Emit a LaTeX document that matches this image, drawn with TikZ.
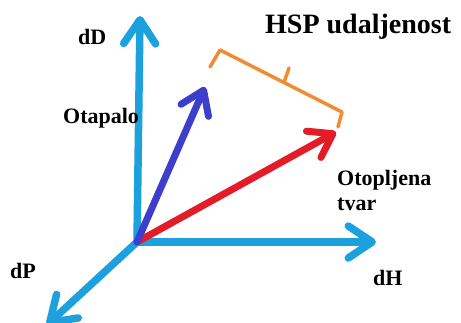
\documentclass[tikz,border=0pt]{standalone}
\usepackage{fontspec}
\setmainfont{Liberation Serif}
\usetikzlibrary{arrows.meta}
\definecolor{axisblue}{RGB}{28,160,222}
\definecolor{solvblue}{RGB}{62,62,205}
\definecolor{solred}{RGB}{228,28,40}
\definecolor{hsporange}{RGB}{242,140,50}
\begin{document}
\begin{tikzpicture}[x=1pt,y=-1pt,
  axisline/.style={draw=axisblue, line width=7.5pt, line cap=round,
    -{Straight Barb[length=24pt,width=32pt,round]}},
  vecline/.style={line width=7pt, line cap=round,
    -{Straight Barb[length=22pt,width=30pt,round]}},
  lbl/.style={font=\fontsize{22}{25}\selectfont\bfseries, inner sep=0pt, anchor=base west},
  bracket/.style={draw=hsporange, line width=3.5pt, line cap=round, line join=round}]
\useasboundingbox (0,0) rectangle (461,322);
% points
\coordinate (O) at (137,242);
\coordinate (Dtip) at (140,16);
\coordinate (Htip) at (376,242);
\coordinate (Ptip) at (47,325);
\coordinate (Btip) at (205,87);
\coordinate (Rtip) at (336,132);
% axes
\draw[axisline] (O) -- (Dtip);
\draw[axisline] (O) -- (Htip);
\draw[axisline] (O) -- (Ptip);
% vectors
\draw[vecline, draw=solred] (O) -- (Rtip);
\draw[vecline, draw=solvblue] (O) -- (Btip);
% bracket
\coordinate (b1) at (210,67);
\coordinate (b2) at (220,50);
\coordinate (b3) at (342,112);
\coordinate (b4) at (338,127);
\coordinate (t1) at (284,82.5);
\coordinate (t2) at (289,68);
\draw[bracket] (b1) -- (b2) -- (b3) -- (b4);
\draw[bracket] (t1) -- (t2);
% labels
\node[lbl] (lD) at (78,44) {dD};
\node[lbl] (lOt) at (63,123) {Otapalo};
\node[lbl, font=\fontsize{28}{32}\selectfont\bfseries] (lHSP) at (265,33) {HSP udaljenost};
\node[lbl, anchor=north west, align=left] (lOtop) at (337,170.5) {Otopljena\\tvar};
\node[lbl] (lH) at (373,285) {dH};
\node[lbl] (lP) at (10,278) {dP};
\end{tikzpicture}
\end{document}
